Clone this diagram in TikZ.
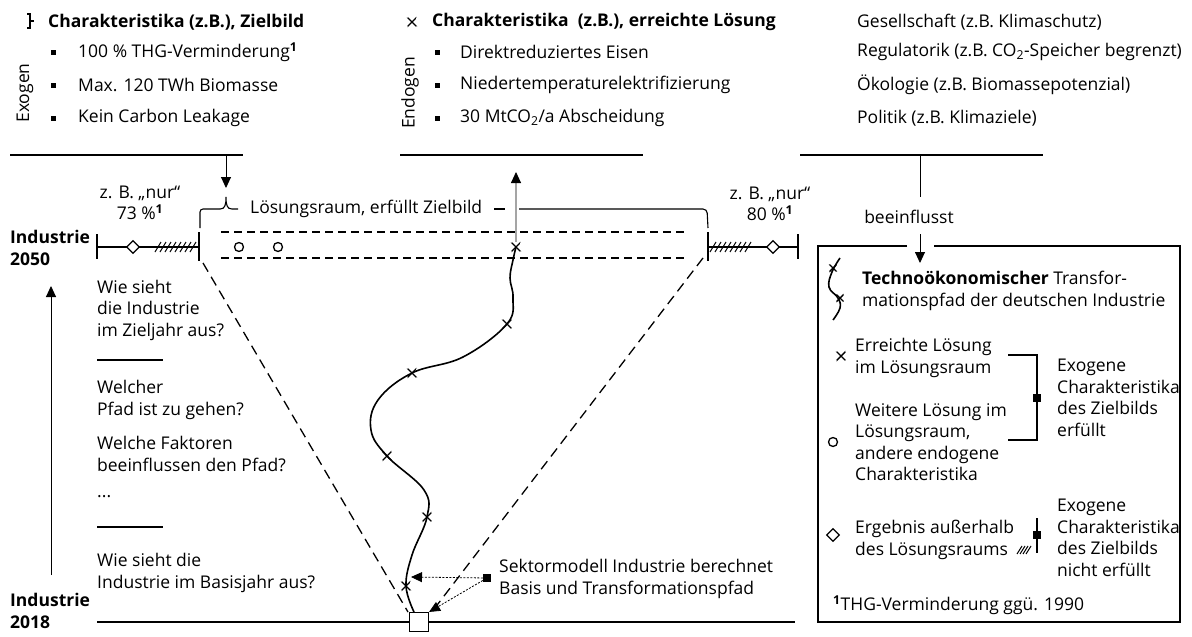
\documentclass[tikz,border=0pt]{standalone}
\usepackage{fontspec}
\setmainfont{Open Sans}
\usetikzlibrary{shapes.geometric,arrows.meta}
\newcommand{\hdrfont}{\fontsize{17.5}{21.5}\selectfont\bfseries}
\begin{document}
\begin{tikzpicture}[x=1pt,y=-1pt,
  base/.style={font=\fontsize{17.5}{21.5}\selectfont,inner sep=0pt},
  txt/.style={base,anchor=west,align=left},
  ctr/.style={base,align=center},
  hdr/.style={font=\hdrfont},
  rule/.style={line width=1.1pt},
  thin/.style={line width=0.9pt},
  pathln/.style={line width=1.6pt},
  bul/.style={rectangle,fill=black,minimum size=5pt,inner sep=0pt},
  xmark/.style={rectangle,minimum size=10pt,inner sep=0pt,rotate=8,
    path picture={\draw[line width=1.4pt]
      (path picture bounding box.north west)--(path picture bounding box.south east)
      (path picture bounding box.north east)--(path picture bounding box.south west);}},
  ring/.style={circle,draw,line width=1.3pt,minimum size=9pt,inner sep=0pt,fill=white},
  diam/.style={diamond,draw,line width=1.2pt,minimum size=13pt,inner sep=0pt,fill=white},
  bsq/.style={rectangle,fill=black,minimum size=8pt,inner sep=0pt},
  tip/.style={-{Triangle[length=11pt,width=10pt]}},
  cone/.style={line width=1.3pt,dash pattern=on 10pt off 6pt},
  band/.style={line width=1.2pt,dash pattern=on 8pt off 5pt},
  dots/.style={line width=0.8pt,dash pattern=on 2pt off 1.5pt},
]
\useasboundingbox (0,0) rectangle (1192,637);

% ---------- exogenous characteristics ----------
\draw[rule] (27,14) -- (30,14) -- (30,21) -- (34,21) (30,21) -- (30,28) -- (27,28);
\node[txt,hdr] (exoT) at (48,22) {Charakteristika (z.B.), Zielbild};
\node[base,rotate=90] (exo) at (25,93) {Exogen};
\node[bul] (eb1) at (53,52) {};
\node[txt] (et1) at (78,52) {100 \% THG-Verminderung\textsuperscript{\bfseries 1}};
\node[bul] (eb2) at (53,85) {};
\node[txt] (et2) at (78,85) {Max. 120 TWh Biomasse};
\node[bul] (eb3) at (53,118) {};
\node[txt] (et3) at (78,118) {Kein Carbon Leakage};
\draw[rule] (10,155) -- (243,155);

% ---------- endogenous characteristics ----------
\node[xmark] (enX) at (412,22) {};
\node[txt,hdr] (enT) at (432,22) {Charakteristika\ \ (z.B.), erreichte Lösung};
\node[base,rotate=90] (endo) at (410,93) {Endogen};
\node[bul] (nb1) at (437,52) {};
\node[txt] (nt1) at (460,52) {Direktreduziertes Eisen};
\node[bul] (nb2) at (437,85) {};
\node[txt] (nt2) at (460,85) {Niedertemperaturelektrifizierung};
\node[bul] (nb3) at (437,118) {};
\node[txt] (nt3) at (460,118) {30 MtCO\textsubscript{2}/a Abscheidung};
\draw[rule] (400,155) -- (643,155);

% ---------- influencing factors ----------
\node[txt] (f1) at (857,22) {Gesellschaft (z.B. Klimaschutz)};
\node[txt] (f2) at (857,52) {Regulatorik (z.B. CO\textsubscript{2}-Speicher begrenzt)};
\node[txt] (f3) at (857,85) {Ökologie (z.B. Biomassepotenzial)};
\node[txt] (f4) at (857,118) {Politik (z.B. Klimaziele)};
\draw[rule] (800,155) -- (1043,155);
\node[ctr] (infl) at (909,217) {beeinflusst};
\coordinate (fTop) at (920,155);
\coordinate (fMid) at (920,197);
\coordinate (fLow) at (920,234);
\coordinate (fTip) at (920,263);
\draw[thin] (fTop) -- (fMid);
\draw[thin,tip] (fLow) -- (fTip);

% ---------- target year 2050 ----------
\node[txt,hdr,align=left] (y50) at (10,248) {Industrie\\2050};
\draw[rule] (97,234) -- (97,259);
\draw[rule] (97,247) -- (199,247);
\node[diam] (dL) at (133,247) {};
\foreach \i in {0,...,7} \draw[line width=1pt] (155+\i*5,252) -- (161+\i*5,242);
\draw[rule] (199,232) -- (199,261);

\draw[rule] (708,232) -- (708,261);
\draw[rule] (708,247) -- (798,247);
\foreach \i in {0,...,7} \draw[line width=1pt] (710+\i*5,252) -- (716+\i*5,242);
\node[diam] (dR) at (773,247) {};
\draw[rule] (798,234) -- (798,259);

\node[ctr] (pL) at (140,203) {z. B. „nur“\\73 \%\textsuperscript{\bfseries 1}};
\node[ctr] (pR) at (770,204) {z. B. „nur“\\80 \%\textsuperscript{\bfseries 1}};

% solution space band
\draw[band] (221,232) -- (685,232);
\draw[band] (221,258) -- (685,258);
\node[ring] (o1) at (239,247) {};
\node[ring] (o2) at (278,247) {};

% brace over the solution space
\coordinate (exoTip) at (226,188);
\draw[thin,tip] (226,155) -- (exoTip);
\draw[rule,rounded corners=3pt] (200,228) -- (200,209) -- (220,209);
\draw[rule] (220,209) .. controls (225,209) and (226,205) .. (226,197)
            .. controls (226,205) and (227,209) .. (232,209) -- (238,209);
\node[txt] (lr) at (250,209) {Lösungsraum, erfüllt Zielbild};
\draw[rule] (494,209) -- (505,209);
\draw[rule,rounded corners=4pt] (519,209) -- (707,209) -- (708,228);

% ---------- cone and path ----------
\node[draw,rule,fill=white,minimum size=19pt,inner sep=0pt] (start) at (419,622) {};
\draw[rule] (97,622) -- (start.west);
\draw[rule] (start.east) -- (795,622);
\draw[cone] (203,263) -- (408,612);
\draw[cone] (703,258) -- (431,613);

\draw[pathln] plot[smooth,tension=0.65] coordinates {(414,612) (406,586) (412,555) (427,517)
  (424,490) (387,456) (371,430) (378,400) (412,373) (463,357) (507,324) (513,298)
  (510,278) (513,260) (516,247)};
\node[xmark] (m1) at (516,247) {};
\node[xmark] (m2) at (507,324) {};
\node[xmark] (m3) at (412,373) {};
\node[xmark] (m4) at (387,456) {};
\node[xmark] (m5) at (427,517) {};
\node[xmark] (m6) at (406,586) {};
\coordinate (endoTip) at (516,172);
\draw[thin,tip] (m1) -- (endoTip);

% sector model note
\node[bsq] (sm) at (487,578) {};
\coordinate (pathHit) at (411,577);
\draw[dots,tip] (sm) -- (pathHit);
\draw[dots,tip] (sm) -- (start.north east);
\node[txt] (smT) at (499,579) {Sektormodell Industrie berechnet\\Basis und Transformationspfad};

% ---------- questions on the left ----------
\coordinate (tA) at (51,575);
\coordinate (tB) at (51,286);
\draw[thin,tip] (tA) -- (tB);
\node[txt] (q1) at (97,310) {Wie sieht\\die Industrie\\im Zieljahr aus?};
\draw[rule] (97,360) -- (163,360);
\node[txt] (q2) at (97,400) {Welcher\\Pfad ist zu gehen?};
\node[txt] (q3) at (97,454) {Welche Faktoren\\beeinflussen den Pfad?};
\node[txt] (q4) at (97,497) {...};
\draw[rule] (97,527) -- (163,527);
\node[txt] (q5) at (97,573) {Wie sieht die\\Industrie im Basisjahr aus?};
\node[txt,hdr,align=left] (y18) at (10,611) {Industrie\\2018};

% ---------- legend ----------
\draw[rule] (907,246) -- (818,246) -- (818,622) -- (1180,622) -- (1180,246) -- (934,246);
\draw[pathln] plot[smooth,tension=0.7] coordinates {(840,258) (832,272) (829,287) (838,298) (840,308) (833,320)};
\node[xmark,minimum size=8pt] (lx1) at (833,268) {};
\node[xmark,minimum size=8pt] (lx2) at (840,298) {};
\node[txt] (lp) at (862,291) {{\hdrfont Technoökonomischer} Transfor-\\mationspfad der deutschen Industrie};

\node[xmark] (lx) at (841,356) {};
\node[txt] (l1) at (855,358) {Erreichte Lösung\\im Lösungsraum};
\node[ring] (lo) at (833,442) {};
\node[txt] (l2) at (855,442) {Weitere Lösung im\\Lösungsraum,\\andere endogene\\Charakteristika};
\draw[rule] (1008,355) -- (1037,355) -- (1037,440) -- (1008,440);
\node[bsq] (k1) at (1037,398) {};
\node[txt] (r1) at (1057,398) {Exogene\\Charakteristika\\des Zielbilds\\erfüllt};

\node[diam] (ld) at (833,535) {};
\node[txt] (l3) at (855,540) {Ergebnis außerhalb\\des Lösungsraums};
\foreach \i in {0,...,3} \draw[line width=1pt] (1017+\i*3,554) -- (1022+\i*3,546);
\draw[rule] (1037,518) -- (1037,553);
\node[bsq] (k2) at (1037,535) {};
\node[txt] (r2) at (1057,538) {Exogene\\Charakteristika\\des Zielbilds\\nicht erfüllt};
\node[txt] (fn) at (833,605) {\textsuperscript{\bfseries 1}THG-Verminderung ggü. 1990};
\end{tikzpicture}
\end{document}
